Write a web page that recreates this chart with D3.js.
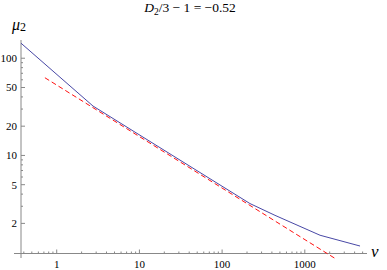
<!DOCTYPE html>
<meta charset="utf-8">
<style>
body { margin: 0; background: #fff; }
.axis line { stroke: #888; }
</style>
<svg id="chart"></svg>
<script src="https://cdn.jsdelivr.net/npm/d3@7"></script>
<script>

// data
var blueV  = [0.37, 2.75, 217, 436, 1528, 4652];
var blueMu = [142.8, 32.2, 3.2, 2.42, 1.51, 1.17];
var redV   = [0.72, 2318];
var redMu  = [63, 0.873];

var xMajor = [1, 10, 100, 1000];
var yMajor = [2, 5, 10, 20, 50, 100];

var width = 387,
    height = 270,
    serif = "'Liberation Serif', 'DejaVu Serif', 'Times New Roman', serif";

var svg = d3.select("#chart")
    .attr("width", width)
    .attr("height", height)
    .style("font-family", serif);

var x = d3.scaleLog()
    .domain([0.37, 5650])
    .range([21, 367]);

var y = d3.scaleLog()
    .domain([0.98, 154])
    .range([253.5, 40]);

// minor ticks
var xMinor = [], yMinor = [];
[0.1, 1, 10, 100, 1000].forEach(function(d) {
  for (var k = 2; k <= 9; k++) {
    var v = d * k;
    if (v >= x.domain()[0] && v <= x.domain()[1]) xMinor.push(v);
  }
});
[1, 10, 100].forEach(function(d) {
  for (var k = 1; k <= 9; k++) {
    var v = d * k;
    if (yMajor.indexOf(v) < 0 && v > 1.1 && v <= y.domain()[1]) yMinor.push(v);
  }
});

var x0 = x(0.37), y0 = y(0.98);

var ax = svg.append("g").attr("class", "axis");

// axis lines
ax.append("line").attr("x1", 14).attr("x2", 367).attr("y1", y0).attr("y2", y0);
ax.append("line").attr("x1", x0).attr("x2", x0).attr("y1", 40).attr("y2", 258);

ax.selectAll(".xt").data(xMajor).enter().append("line")
    .attr("x1", function(d) { return x(d); }).attr("x2", function(d) { return x(d); })
    .attr("y1", y0).attr("y2", y0 - 4);
ax.selectAll(".xm").data(xMinor).enter().append("line")
    .attr("x1", function(d) { return x(d); }).attr("x2", function(d) { return x(d); })
    .attr("y1", y0).attr("y2", y0 - 2);
ax.selectAll(".yt").data(yMajor).enter().append("line")
    .attr("y1", function(d) { return y(d); }).attr("y2", function(d) { return y(d); })
    .attr("x1", x0).attr("x2", x0 + 4);
ax.selectAll(".ym").data(yMinor).enter().append("line")
    .attr("y1", function(d) { return y(d); }).attr("y2", function(d) { return y(d); })
    .attr("x1", x0).attr("x2", x0 + 2);

svg.selectAll(".xl").data(xMajor).enter().append("text")
    .attr("x", function(d) { return x(d); })
    .attr("y", 268)
    .attr("text-anchor", "middle")
    .style("font-size", "11px")
    .text(function(d) { return d; });

svg.selectAll(".yl").data(yMajor).enter().append("text")
    .attr("x", 17)
    .attr("y", function(d) { return y(d); })
    .attr("dy", ".35em")
    .attr("text-anchor", "end")
    .style("font-size", "11px")
    .text(function(d) { return d; });

// curves
var line = d3.line()
    .x(function(d) { return x(d[0]); })
    .y(function(d) { return y(d[1]); });

svg.append("path")
    .datum(d3.zip(blueV, blueMu))
    .attr("d", line)
    .attr("fill", "none")
    .attr("stroke", "#4848a6")
    .attr("stroke-width", 1);

svg.append("path")
    .datum(d3.zip(redV, redMu))
    .attr("d", line)
    .attr("fill", "none")
    .attr("stroke", "#ff1010")
    .attr("stroke-width", 1)
    .attr("stroke-dasharray", "5,3");

// labels
var title = svg.append("text")
    .attr("x", 190).attr("y", 12)
    .attr("text-anchor", "middle")
    .style("font-size", "13.5px");
title.append("tspan").style("font-style", "italic").text("D");
title.append("tspan").attr("dy", 3).style("font-size", "9.5px").text("2");
title.append("tspan").attr("dy", -3).text("/3 \u2212 1 = \u22120.52");

var ylab = svg.append("text")
    .attr("x", 12).attr("y", 30)
    .style("font-size", "16px");
ylab.append("tspan").style("font-style", "italic").text("\u03bc");
ylab.append("tspan").attr("dy", 1).style("font-size", "12px").text("2");

svg.append("text")
    .attr("x", 371).attr("y", 257)
    .style("font-size", "17px")
    .style("font-style", "italic")
    .text("v");

</script>
